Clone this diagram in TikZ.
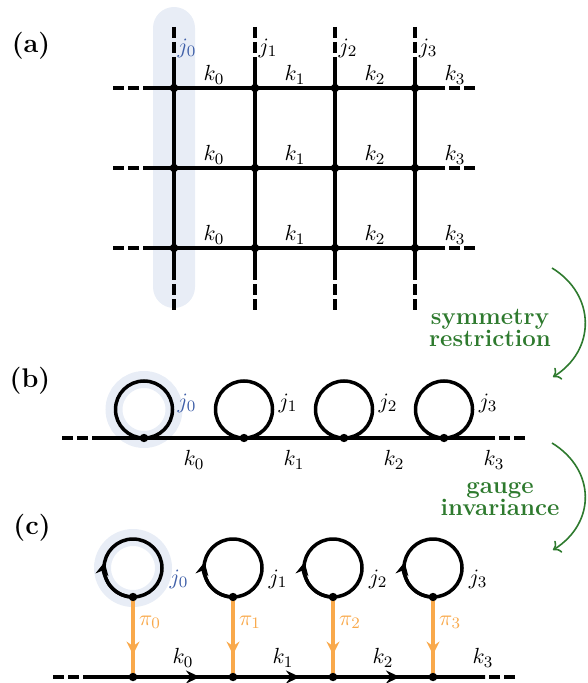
\documentclass[tikz,border=0pt]{standalone}
\usetikzlibrary{arrows.meta,decorations.markings}
\definecolor{hl}{HTML}{E8EDF6}
\definecolor{jblue}{HTML}{3F5FA8}
\definecolor{pio}{HTML}{F9A94B}
\definecolor{grn}{HTML}{2E7A2E}
\begin{document}
\begin{tikzpicture}[x=0.5pt,y=-0.5pt,
  every node/.style={font=\fontsize{11}{13}\selectfont},
  edge/.style={line width=1.75pt},
  dashedge/.style={line width=1.75pt, dash pattern=on 5.5pt off 2pt},
  vdot/.style={circle, fill=black, inner sep=0pt, minimum size=4.2pt},
  lbl/.style={inner sep=0pt},
  panel/.style={inner sep=0pt, font=\fontsize{13.5}{16}\bfseries\selectfont},
  gtext/.style={text=grn, inner sep=0pt, font=\fontsize{12}{10.8}\bfseries\selectfont, align=center},
  garrow/.style={grn, line width=0.8pt, -{Computer Modern Rightarrow[length=3.5pt,width=7pt]}},
  ring/.style={hl, line width=8.5pt},
  pioedge/.style={pio, line width=1.75pt, postaction=decorate,
    decoration={markings, mark=at position 0.72 with {\arrow{Stealth[length=6.5pt,width=6.5pt,inset=2.2pt]}}}},
  fwd/.style={line width=1.75pt, postaction=decorate,
    decoration={markings, mark=at position 0.67 with {\arrow{Stealth[length=7pt,width=6.5pt,inset=2.4pt]}}}},
  cyctip/.style={line width=1.75pt, -{Stealth[length=6.5pt,width=6.5pt,inset=2.2pt]}}
]
\useasboundingbox (0,0) rectangle (587,683);

% ---------------- panel (a) ----------------
\node[panel] (pa) at (31,46) {(a)};
\fill[hl, rounded corners=10.5pt] (153,7) rectangle (195,308);
\foreach \i/\x in {0/174,1/255,2/335,3/415}{
  \coordinate (vt\i) at (\x,27);
  \coordinate (vs\i) at (\x,58);
  \coordinate (ve\i) at (\x,270);
  \coordinate (vb\i) at (\x,310);
  \draw[dashedge] (vt\i) -- (vs\i);
  \draw[edge] (vs\i) -- (ve\i);
  \draw[dashedge] (vb\i) -- (ve\i);
}
\foreach \r/\y in {0/88,1/168,2/248}{
  \coordinate (hl\r) at (113,\y);
  \coordinate (hs\r) at (145,\y);
  \coordinate (he\r) at (443,\y);
  \coordinate (hr\r) at (475,\y);
  \draw[dashedge] (hl\r) -- (hs\r);
  \draw[edge] (hs\r) -- (he\r);
  \draw[dashedge] (hr\r) -- (he\r);
  \foreach \i/\x in {0/174,1/255,2/335,3/415}{
    \node[vdot] (g\r\i) at (\x,\y) {};
    \node[lbl] (ka\r\i) at (\x+40,\y-13) {$k_{\i}$};
  }
}
\node[lbl, text=jblue] (ja0) at (187,48) {$j_0$};
\foreach \i/\x in {1/255,2/335,3/415}{
  \node[lbl] (ja\i) at (\x+13,48) {$j_{\i}$};
}

% ---------------- green arrow 1 ----------------
\coordinate (g1s) at (552,268);
\coordinate (g1e) at (553,377);
\draw[garrow] (g1s) .. controls (596,295) and (596,350) .. (g1e);
\node[gtext] (t1) at (490,328) {symmetry\\restriction};

% ---------------- panel (b) ----------------
\node[panel] (pb) at (30,381) {(b)};
\coordinate (bl) at (62,438);
\coordinate (bs) at (97,438);
\coordinate (be) at (485,438);
\coordinate (br) at (525,438);
\draw[ring] (144,409.5) circle[radius=30];
\draw[dashedge] (bl) -- (bs);
\draw[edge] (bs) -- (be);
\draw[dashedge] (br) -- (be);
\foreach \i/\x in {0/144,1/244,2/344,3/444}{
  \draw[edge] (\x,409.5) circle[radius=28.5];
  \node[vdot] (b\i) at (\x,438) {};
  \node[lbl] (kb\i) at (\x+50,460) {$k_{\i}$};
}
\node[lbl, text=jblue] (jb0) at (187,403) {$j_0$};
\foreach \i/\x in {1/244,2/344,3/444}{
  \node[lbl] (jb\i) at (\x+44,403) {$j_{\i}$};
}

% ---------------- green arrow 2 ----------------
\coordinate (g2s) at (552,443);
\coordinate (g2e) at (553,550);
\draw[garrow] (g2s) .. controls (596,470) and (596,523) .. (g2e);
\node[gtext] (t2) at (500,499) {gauge\\invariance};

% ---------------- panel (c) ----------------
\node[panel] (pc) at (32,528) {(c)};
\draw[ring] (133,568) circle[radius=30.5];
\coordinate (cl) at (53,677);
\coordinate (cs) at (85,677);
\coordinate (ce) at (485,677);
\coordinate (cr) at (515,677);
\foreach \i/\x in {0/133,1/233,2/333,3/433}{
  \coordinate (c\i) at (\x,597);
  \coordinate (l\i) at (\x,677);
  \draw[edge] (c\i) arc[start angle=90, end angle=450, radius=29];
  \draw[cyctip] (c\i) arc[start angle=90, end angle=192, radius=29];
  \draw[pioedge] (c\i) -- (l\i);
  \node[lbl, text=pio] (pi\i) at (\x+17,622) {$\pi_{\i}$};
  \node[lbl] (kc\i) at (\x+50,658) {$k_{\i}$};
}
\draw[dashedge] (cl) -- (cs);
\draw[edge] (cs) -- (l0);
\draw[fwd] (l0) -- (l1);
\draw[fwd] (l1) -- (l2);
\draw[fwd] (l2) -- (l3);
\draw[edge] (l3) -- (ce);
\draw[dashedge] (cr) -- (ce);
\foreach \i in {0,1,2,3}{
  \node[vdot] (cd\i) at (c\i) {};
  \node[vdot] (ld\i) at (l\i) {};
}
\node[lbl, text=jblue] (jc0) at (179,579) {$j_0$};
\foreach \i/\x in {1/233,2/333,3/433}{
  \node[lbl] (jc\i) at (\x+45,579) {$j_{\i}$};
}
\end{tikzpicture}
\end{document}
